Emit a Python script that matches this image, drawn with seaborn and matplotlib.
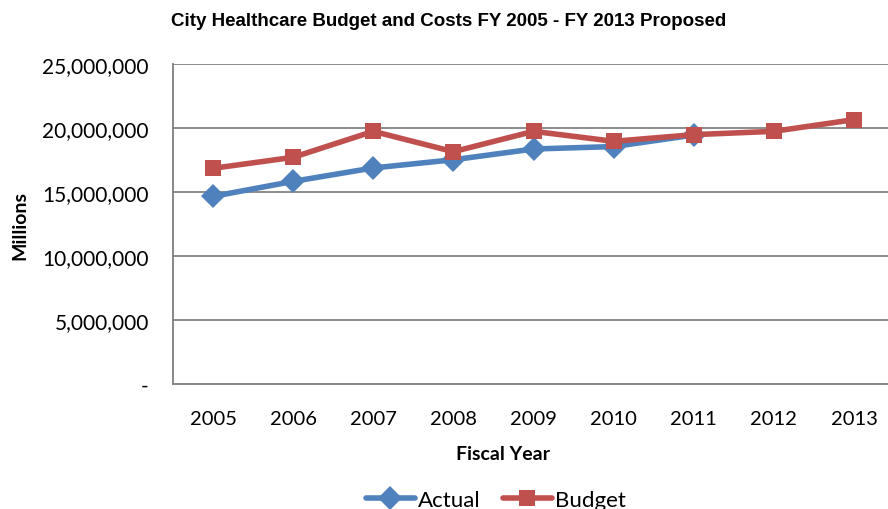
import matplotlib
matplotlib.use("Agg")
import matplotlib.pyplot as plt
import seaborn as sns
import pandas as pd
from matplotlib.ticker import FuncFormatter
from matplotlib.lines import Line2D

years = ["2005", "2006", "2007", "2008", "2009", "2010", "2011", "2012", "2013"]
actual = [14.66e6, 15.83e6, 16.88e6, 17.52e6, 18.36e6, 18.55e6, 19.45e6]
budget = [16.85e6, 17.71e6, 19.74e6, 18.15e6, 19.74e6, 18.96e6, 19.48e6, 19.74e6, 20.65e6]
yticks = [0, 5e6, 10e6, 15e6, 20e6, 25e6]

sns.set_theme(style="white")
plt.rcParams["font.family"] = ["Lato", "DejaVu Sans"]
plt.rcParams["text.color"] = "#000000"

df = pd.DataFrame({
    "year": years[:len(actual)] + years,
    "value": actual + budget,
    "series": ["Actual"] * len(actual) + ["Budget"] * len(budget),
})
df["x"] = df["year"].map({y: i for i, y in enumerate(years)})

fig = plt.figure(figsize=(8.88, 5.10), dpi=100)
ax = fig.add_axes([173 / 888, 1 - 385 / 510, 721 / 888, 320 / 510])

palette = {"Actual": "#4F81BD", "Budget": "#C0504D"}
markers = {"Actual": "D", "Budget": "s"}
sns.lineplot(data=df, x="x", y="value", hue="series", style="series",
             palette=palette, markers=markers, dashes=False, linewidth=4,
             markersize=12, markeredgewidth=0, ax=ax, legend=False, zorder=3)

ax.set_xlim(-0.5, len(years) - 0.5)
ax.set_ylim(0, 25e6)
ax.set_yticks(yticks)
ax.yaxis.set_major_formatter(FuncFormatter(lambda v, p: "-" if v == 0 else f"{v:,.0f}"))
ax.set_xticks(range(len(years)))
ax.set_xticklabels(years)
ax.set_xticks([i - 0.5 for i in range(len(years) + 1)], minor=True)
ax.tick_params(axis="x", which="major", length=0, pad=19, labelsize=14.5, colors="#000000")
ax.tick_params(axis="x", which="minor", length=5, width=1.2, color="#868686", direction="out")
ax.tick_params(axis="y", length=5, width=1.2, color="#868686", direction="inout", pad=15,
               labelsize=15, labelcolor="#000000")

ax.grid(axis="y", color="#8C8C8C", linewidth=1.4)
ax.grid(axis="x", visible=False)
for side in ["top", "right"]:
    ax.spines[side].set_visible(False)
for side in ["left", "bottom"]:
    ax.spines[side].set_color("#868686")
    ax.spines[side].set_linewidth(1.4)

ax.set_xlabel("")
ax.set_ylabel("")
fig.text(20 / 888, 1 - 226 / 510, "Millions", rotation=90, ha="center", va="center",
         fontsize=14, fontweight="bold")
fig.text(503 / 888, 1 - 455 / 510, "Fiscal Year", ha="center", va="center",
         fontsize=14, fontweight="bold")
fig.text(449 / 888, 1 - 22 / 510, "City Healthcare Budget and Costs FY 2005 - FY 2013 Proposed",
         ha="center", va="center", fontsize=13.5, fontweight="bold",
         family=["Liberation Sans Narrow", "Liberation Sans", "DejaVu Sans"])

handles = [Line2D([], [], color=palette[s], marker=markers[s], linewidth=4,
                  markersize=12, markeredgewidth=0) for s in ["Actual", "Budget"]]
fig.legend(handles, ["Actual", "Budget"], loc="center", bbox_to_anchor=(496 / 888, 1 - 501 / 510),
           ncol=2, frameon=False, fontsize=16, handlelength=2.2, columnspacing=1.0,
           handletextpad=0.15)

fig.savefig("out.png", dpi=100)
